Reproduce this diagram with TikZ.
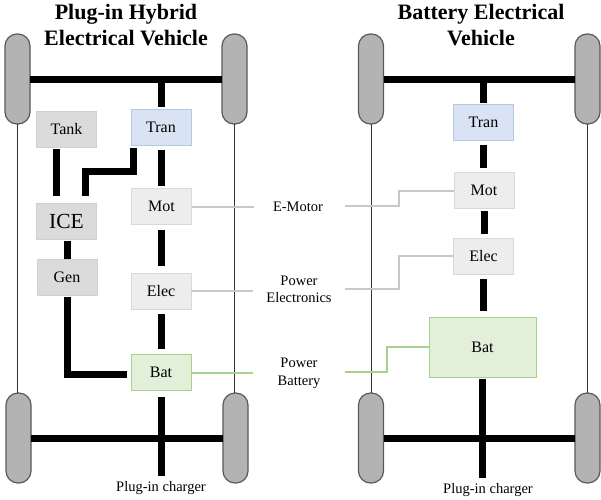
\documentclass[tikz,border=0pt]{standalone}
\usepackage{fontspec}
\setmainfont{Liberation Serif}
\usepackage{tikz}
\usetikzlibrary{positioning}

\definecolor{wheelfill}{HTML}{B3B3B3}
\definecolor{wheelline}{HTML}{595959}
\definecolor{tranfill}{HTML}{DAE3F3}
\definecolor{tranline}{HTML}{B4C7E7}
\definecolor{softfill}{HTML}{EDEDED}
\definecolor{softline}{HTML}{D9D9D9}
\definecolor{darkfill}{HTML}{DBDBDB}
\definecolor{darkline}{HTML}{D0D0D0}
\definecolor{batfill}{HTML}{E2F0D9}
\definecolor{batline}{HTML}{A9D18E}
\definecolor{leadline}{HTML}{C8C8C8}

\begin{document}
\begin{tikzpicture}[x=1pt, y=-1pt,
  wheel node/.style={rectangle,draw=wheelline,fill=wheelfill,line width=1.2pt,rounded corners=12pt,
    minimum width=25pt,minimum height=90pt,inner sep=0pt,outer sep=0pt},
  main node/.style={rectangle,draw,line width=1pt,minimum width=60pt,minimum height=36pt,
    inner sep=0pt,outer sep=0pt,font=\fontsize{16}{18}\selectfont},
  tran node/.style={main node,draw=tranline,fill=tranfill},
  soft node/.style={main node,draw=softline,fill=softfill},
  dark node/.style={main node,draw=darkline,fill=darkfill},
  bat node/.style={main node,draw=batline,fill=batfill},
  title node/.style={align=center,font=\bfseries\fontsize{22}{26}\selectfont},
  label node/.style={align=center,font=\fontsize{14.5}{17}\selectfont},
  link/.style={line width=7pt},
  gaps/.style 2 args={shorten <=#1pt,shorten >=#2pt},
  lead/.style={line width=2pt,draw=#1}]

\useasboundingbox (0,0) rectangle (601,499);

% wheels
\node[wheel node] (PFL) at (17.5,79) {};
\node[wheel node] (PFR) at (234.5,79) {};
\node[wheel node] (PRL) at (18.5,438) {};
\node[wheel node] (PRR) at (235.5,438) {};
\node[wheel node] (BFL) at (371,79) {};
\node[wheel node] (BFR) at (587.5,79) {};
\node[wheel node] (BRL) at (371,438) {};
\node[wheel node] (BRR) at (587.5,438) {};

% hybrid
\node[title node] (PT) at (126,25) {Plug-in Hybrid\\Electrical Vehicle};
\node[dark node] (Tank) at (66.5,129.5) {Tank};
\node[tran node] (PTran) at (161,127.5) {Tran};
\node[dark node, font=\fontsize{21.5}{24}\selectfont] (ICE) at (66.5,221) {ICE};
\node[soft node] (PMot) at (161.5,206.5) {Mot};
\node[dark node] (Gen) at (67,277) {Gen};
\node[soft node] (PElec) at (161,291) {Elec};
\node[bat node] (PBat) at (161,372.5) {Bat};
\node[label node] (PPlug) at (161,488) {Plug-in charger};

% battery only
\node[title node] (BT) at (481,25) {Battery Electrical\\Vehicle};
\node[tran node] (BTran) at (483.5,122.5) {Tran};
\node[soft node] (BMot) at (484,190.5) {Mot};
\node[soft node] (BElec) at (483.5,256) {Elec};
\node[bat node, minimum width=107pt, minimum height=60pt] (BBat) at (482.5,347) {Bat};
\node[label node] (BPlug) at (488,490) {Plug-in charger};

% labels in the middle
\node[label node] (LMot) at (298,207) {E-Motor};
\node[label node] (LElec) at (299,289) {Power\\Electronics};
\node[label node] (LBat) at (299,373) {Power\\[1pt]Battery};

\coordinate (PMotEnd) at (254,206);
\coordinate (PElecEnd) at (253,290);
\coordinate (PBatEnd) at (253,372);
\coordinate (BMotEnd) at (345,206);
\coordinate (BElecEnd) at (345,289);
\coordinate (BBatEnd) at (345,372);

% frame
\path[line width=0.9pt, draw=black!80]
(PFL.south) edge (PFL.south |- PRL.north)
(PFR.south) edge (PFR.south |- PRR.north)
(BFL.south) edge (BFL.south |- BRL.north)
(BFR.south) edge (BFR.south |- BRR.north)
;

% leaders
\path[lead=leadline]
(PMot.east) edge (PMot.east -| PMotEnd)
(PElec.east) edge (PElec.east -| PElecEnd)
;
\draw[lead=batline] (PBat.east) -- (PBat.east -| PBatEnd);
\draw[lead=leadline] (BMotEnd) -- ++(54,0) |- (BMot.west);
\draw[lead=leadline] (BElecEnd) -- ++(54,0) |- (BElec.west);
\draw[lead=batline] (BBatEnd) -- ++(42,0) |- (BBat.west);

% axles and drive line
\path[link]
(PFL) edge (PFR)
(PRL) edge (PRR)
(BFL) edge (BFR)
(BRL) edge (BRR)
(PTran.north) edge [gaps={2.5}{0}] (PTran.north |- PFL.east)
(PTran.south) edge [gaps={4}{3}] (PTran.south |- PMot.north)
(PMot.south) edge [gaps={5.5}{7}] (PMot.south |- PElec.north)
(PElec.south) edge [gaps={5}{5.5}] (PElec.south |- PBat.north)
(PBat.south) edge [gaps={6.5}{2}] (PBat.south |- PPlug.north)
(BTran.north) edge [gaps={1.5}{0}] (BTran.north |- BFL.east)
(BTran.south) edge [gaps={4.5}{4.5}] (BTran.south |- BMot.north)
(BMot.south) edge [gaps={2.5}{4}] (BMot.south |- BElec.north)
(BElec.south) edge [gaps={5}{6}] (BElec.south |- BBat.north)
(BBat.south) edge [gaps={2}{2}] (BBat.south |- BPlug.north)
([xshift=-10pt]Tank.south) edge [gaps={1}{7}] ([xshift=-10pt]ICE.north)
([xshift=1pt]ICE.south) edge [gaps={2}{0}] ([xshift=1pt]ICE.south |- Gen.north)
;
\draw[link, gaps={2}{7}] ([xshift=-28pt]PTran.south) -- ++(0,26) -| ([xshift=18.5pt]ICE.north);
\draw[link, gaps={2}{4}] (Gen.south) |- ([yshift=-2pt]PBat.west);

\end{tikzpicture}
\end{document}
